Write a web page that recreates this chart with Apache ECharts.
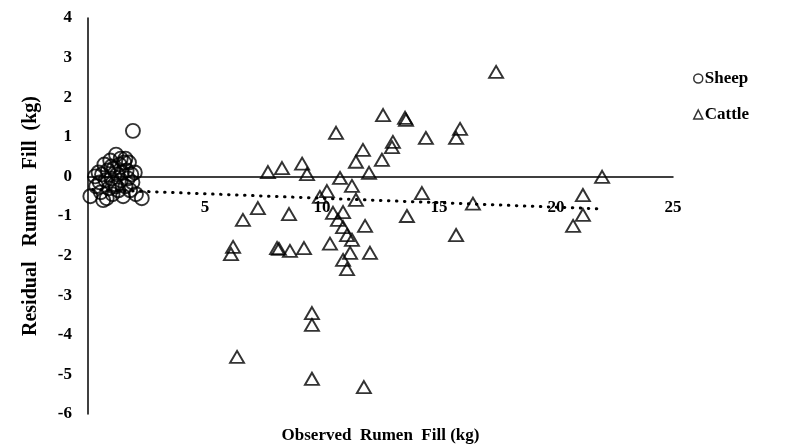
<!DOCTYPE html>
<html>
<head>
<meta charset="utf-8">
<script src="https://cdn.jsdelivr.net/npm/echarts@6/dist/echarts.min.js"></script>
<style>
  html, body { margin: 0; padding: 0; background: #fff; }
  #chart { width: 800px; height: 448px; }
</style>
</head>
<body>
<div id="chart"></div>
<script>
// Sheep: observed rumen fill (kg) vs residual (kg)
const sheepPoints = [
  [0.45, 0.10], [0.35, -0.25], [0.55, -0.40], [0.60, 0.05], [0.70, 0.30],
  [0.75, -0.10], [0.80, -0.55], [0.85, 0.15], [0.90, -0.30], [0.95, 0.40],
  [1.00, -0.05], [1.05, -0.45], [1.10, 0.20], [1.15, -0.20], [1.20, 0.55],
  [1.25, 0.05], [1.30, -0.35], [1.35, 0.30], [1.40, -0.10], [1.45, 0.10],
  [1.50, -0.50], [1.55, 0.35], [1.60, -0.25], [1.65, 0.15], [1.70, -0.05],
  [1.75, 0.35], [1.80, -0.35], [1.85, 0.05], [1.90, -0.15], [2.00, 0.10],
  [2.05, -0.45], [2.30, -0.55], [1.92, 1.15], [0.65, -0.60], [1.00, 0.25],
  [1.20, -0.25], [0.50, -0.15], [1.40, 0.45], [1.60, 0.45], [0.30, 0.00],
  [0.10, -0.50]
];

// Cattle: observed rumen fill (kg) vs residual (kg)
const cattlePoints = [
  [6.20, -1.78], [6.11, -1.96], [6.37, -4.56], [6.62, -1.10], [7.26, -0.80],
  [7.69, 0.11], [8.29, 0.21], [8.59, -0.95], [8.08, -1.81], [8.16, -1.83],
  [8.63, -1.88], [9.23, -1.81], [9.15, 0.32], [9.36, 0.06], [9.57, -3.45],
  [9.57, -3.75], [9.57, -5.11], [9.91, -0.52], [10.21, -0.37], [10.34, -1.70],
  [10.47, -0.92], [10.60, 1.10], [10.77, -0.04], [10.90, -0.90], [10.68, -1.10],
  [10.90, -1.28], [11.07, -1.48], [11.28, -1.60], [11.28, -0.24], [11.45, -0.59],
  [11.45, 0.37], [11.75, 0.67], [11.79, -5.32], [11.84, -1.25], [12.01, 0.09],
  [11.20, -1.93], [12.05, -1.93], [10.90, -2.11], [11.07, -2.34], [12.56, 0.42],
  [12.61, 1.55], [13.03, 0.87], [12.99, 0.74], [13.55, 1.48], [13.59, 1.43],
  [13.63, -1.00], [14.27, -0.42], [14.44, 0.97], [15.90, 1.20], [15.73, 0.97],
  [15.73, -1.48], [16.45, -0.69], [17.44, 2.64], [20.73, -1.25], [21.15, -0.47],
  [21.15, -0.97], [21.97, -0.01]
];

// Linear trend line endpoints
const trendPoints = [[0.20, -0.33], [21.90, -0.82]];

const xTicks = { min: 0, max: 25, interval: 5 };
const yTicks = { min: -6, max: 4, interval: 1 };

const FONT = '"Liberation Serif", "Times New Roman", serif';

const chart = echarts.init(document.getElementById('chart'), null, { renderer: 'canvas' });

const hollow = {
  color: 'rgba(0,0,0,0)',
  borderColor: '#000',
  borderWidth: 1.9
};

chart.setOption({
  animation: false,
  backgroundColor: '#fff',
  grid: { left: 88, right: 127, top: 18, bottom: 34, containLabel: false, outerBoundsMode: 'none' },
  legend: {
    orient: 'vertical',
    left: 688,
    top: 65,
    itemWidth: 9,
    itemHeight: 9,
    itemGap: 19,
    data: [
      { name: 'Sheep', icon: 'circle' },
      { name: 'Cattle', icon: 'triangle' }
    ],
    itemStyle: { color: 'rgba(0,0,0,0)', borderColor: '#000', borderWidth: 1.5 },
    textStyle: { fontFamily: FONT, fontWeight: 'bold', fontSize: 17, color: '#000', padding: [0, 0, 0, -3] }
  },
  xAxis: {
    type: 'value',
    min: xTicks.min, max: xTicks.max, interval: xTicks.interval,
    axisLine: { onZero: true, lineStyle: { color: '#000', width: 1.5 } },
    axisTick: { show: false },
    splitLine: { show: false },
    axisLabel: {
      // labels sit just below the zero line
      margin: -215,
      fontFamily: FONT, fontWeight: 'bold', fontSize: 17, color: '#000',
      formatter: v => (v === 0 ? '' : String(v))
    },
    name: 'Observed  Rumen  Fill (kg)',
    nameLocation: 'middle',
    nameGap: 13,
    nameTextStyle: { fontFamily: FONT, fontWeight: 'bold', fontSize: 17, color: '#000' }
  },
  yAxis: {
    type: 'value',
    min: yTicks.min, max: yTicks.max, interval: yTicks.interval,
    axisLine: { show: true, onZero: false, lineStyle: { color: '#000', width: 1.5 } },
    axisTick: { show: false },
    splitLine: { show: false },
    axisLabel: {
      margin: 16,
      fontFamily: FONT, fontWeight: 'bold', fontSize: 17, color: '#000'
    },
    name: 'Residual   Rumen   Fill  (kg)',
    nameLocation: 'middle',
    nameGap: 47,
    nameRotate: 90,
    nameTextStyle: { fontFamily: FONT, fontWeight: 'bold', fontSize: 20, color: '#000' }
  },
  series: [
    {
      name: 'Sheep',
      type: 'scatter',
      symbol: 'circle',
      symbolSize: 14,
      itemStyle: hollow,
      data: sheepPoints,
      z: 3
    },
    {
      name: 'Cattle',
      type: 'scatter',
      symbol: 'triangle',
      symbolSize: [14, 12],
      itemStyle: hollow,
      data: cattlePoints,
      z: 3
    },
    {
      name: 'Trend',
      type: 'line',
      data: trendPoints,
      symbol: 'none',
      silent: true,
      lineStyle: { color: '#000', width: 3, type: [0.5, 7.5], cap: 'round' },
      z: 2
    }
  ]
});
</script>
</body>
</html>
